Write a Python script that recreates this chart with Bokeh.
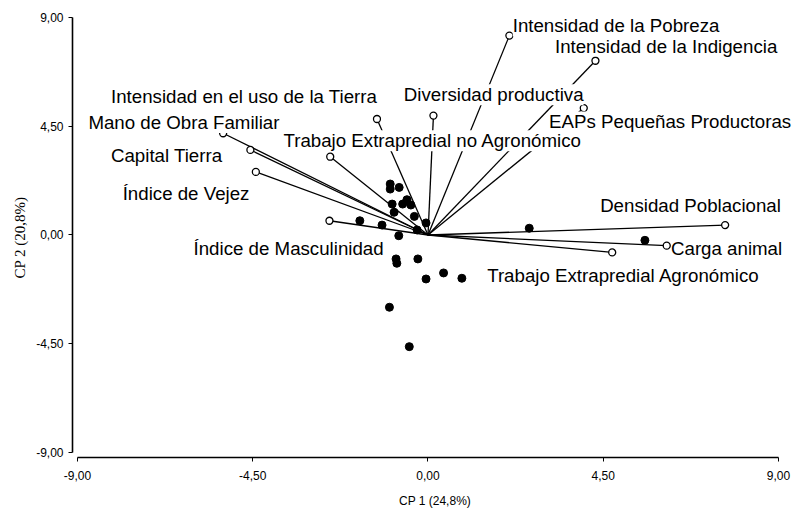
from bokeh.plotting import figure
from bokeh.models import ColumnDataSource, LabelSet, FixedTicker, CustomJSTickFormatter, Range1d
from bokeh.core.properties import value
from bokeh.embed import file_html
from bokeh.resources import INLINE

# Variables (biplot vectors)
variables = [
    "Intensidad de la Pobreza",
    "Intensidad de la Indigencia",
    "Diversidad productiva",
    "EAPs Pequeñas Productoras",
    "Trabajo Extrapredial no Agronómico",
    "Intensidad en el uso de la Tierra",
    "Mano de Obra Familiar",
    "Capital Tierra",
    "Índice de Vejez",
    "Índice de Masculinidad",
    "Densidad Poblacional",
    "Carga animal",
    "Trabajo Extrapredial Agronómico",
]
var_cp1 = [2.09, 4.30, 0.14, 4.00, -2.51, -1.31, -5.26, -4.56, -4.42, -2.53, 7.63, 6.13, 4.73]
var_cp2 = [8.25, 7.21, 4.94, 5.25, 3.24, 4.80, 4.21, 3.52, 2.61, 0.59, 0.41, -0.44, -0.72]

# Label anchor positions (data units, left / middle of each text)
label_cp1 = [2.175, 3.26, -0.62, 3.11, -3.71, -8.14, -8.72, -8.14, -7.84, -6.02, 4.42, 6.24, 1.52]
label_cp2 = [8.65, 7.82, 5.80, 4.68, 3.90, 5.74, 4.66, 3.28, 1.70, -0.54, 1.24, -0.55, -1.68]

# Observations (scores)
obs_cp1 = [-0.97, -0.97, -0.74, -0.92, -0.65, -0.54, -0.44, -0.87, -0.35, -0.05, -1.75, -1.18,
           -0.28, -0.75, -0.82, -0.80, -0.26, -0.05, 0.40, 0.87, -0.99, -0.48, 2.60, 5.57]
obs_cp2 = [2.11, 1.90, 1.97, 1.28, 1.28, 1.46, 1.24, 0.94, 0.77, 0.50, 0.59, 0.41,
           0.21, -0.03, -0.99, -1.17, -0.99, -1.82, -1.57, -1.79, -2.99, -4.62, 0.28, -0.22]

axis_ticks = [-9.0, -4.5, 0.0, 4.5, 9.0]

p = figure(width=797, height=511,
           x_range=Range1d(-9.128, 9.488), y_range=Range1d(-9.207, 9.0),
           output_backend="svg", toolbar_location=None,
           min_border_left=72, min_border_right=0, min_border_top=17, min_border_bottom=54)
p.grid.visible = False
p.outline_line_color = None
p.background_fill_color = "white"

fmt = CustomJSTickFormatter(code="return tick.toFixed(2).replace('.', ',');")
for ax in (p.xaxis[0], p.yaxis[0]):
    ax.ticker = FixedTicker(ticks=axis_ticks)
    ax.formatter = fmt
    ax.bounds = (-9, 9)
    ax.minor_tick_line_color = None
    ax.major_tick_in = 0
    ax.major_tick_out = 4
    ax.axis_line_width = 1.6
    ax.axis_line_color = "black"
    ax.major_tick_line_color = "black"
    ax.major_label_text_font = "Liberation Sans"
    ax.major_label_text_font_size = "12px"
    ax.major_label_text_color = "black"
    ax.axis_label_text_font_style = "normal"
    ax.axis_label_text_color = "black"

p.xaxis.axis_label = "CP 1 (24,8%)"
p.xaxis.axis_label_text_font = "Liberation Sans"
p.xaxis.axis_label_text_font_size = "12px"
p.xaxis.major_label_standoff = 9
p.xaxis.axis_label_standoff = 11

p.yaxis.axis_label = "CP 2 (20,8%)"
p.yaxis.axis_label_text_font = "Liberation Serif"
p.yaxis.axis_label_text_font_size = "15px"
p.yaxis.major_label_standoff = 5
p.yaxis.axis_label_standoff = 5

vsrc = ColumnDataSource(dict(x0=[0.0] * len(var_cp1), y0=[0.0] * len(var_cp1),
                             x=var_cp1, y=var_cp2))
p.segment(x0="x0", y0="y0", x1="x", y1="y", source=vsrc, line_color="black", line_width=1.3)

p.scatter(obs_cp1, obs_cp2, size=8, color="black")

p.scatter(x="x", y="y", source=vsrc, size=7, fill_color="white", line_color="black", line_width=1.3)

lsrc = ColumnDataSource(dict(x=label_cp1, y=label_cp2, text=variables))
labels = LabelSet(x="x", y="y", text="text", source=lsrc,
                  text_align="left", text_baseline="middle",
                  text_font=value("Liberation Sans"), text_font_size="18.7px",
                  text_color="black", background_fill_color="white")
p.add_layout(labels)

open("out.html", "w").write(file_html(p, INLINE))
